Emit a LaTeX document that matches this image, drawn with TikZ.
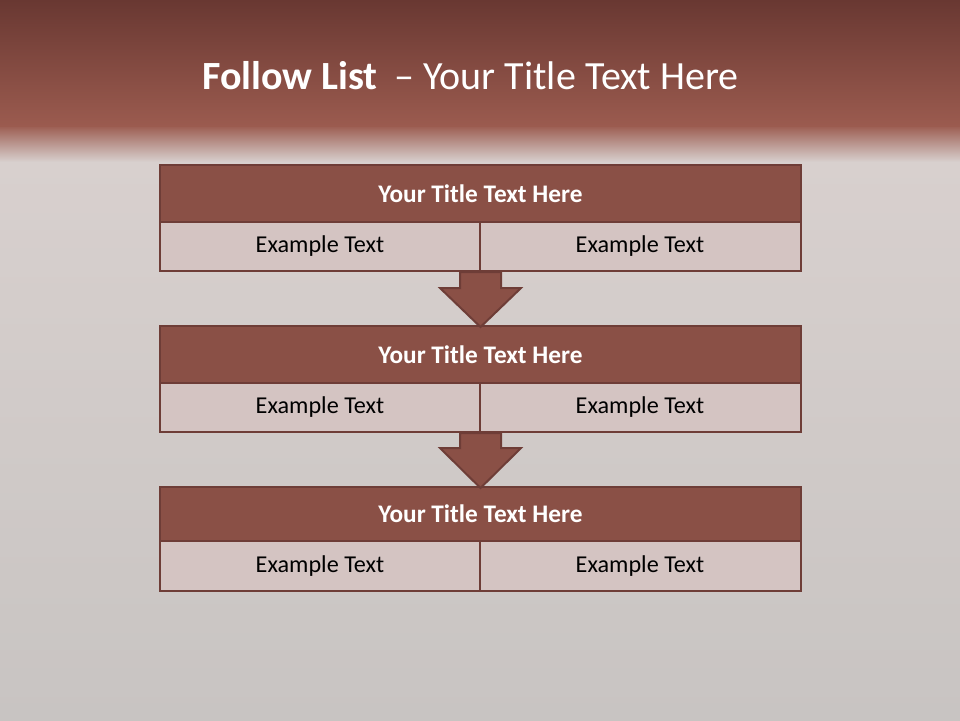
\documentclass[tikz,border=0pt]{standalone}
\usepackage{fontspec}
\setmainfont{Carlito}
\begin{document}
\begin{tikzpicture}[x=1pt,y=-1pt,
  titlebar/.style={draw=bordc, line width=2.5pt, fill=titlec},
  rowcell/.style={draw=bordc, line width=2.5pt, fill=rowc},
  titletext/.style={text=white, font=\bfseries\fontsize{25.3}{30}\selectfont},
  rowtext/.style={text=black, font=\fontsize{24.2}{29}\selectfont},
  downarrow/.style={draw=bordc, line width=2pt, fill=titlec, line join=miter}]
\definecolor{bordc}{HTML}{6E3D37}
\definecolor{titlec}{HTML}{8A5046}
\definecolor{rowc}{HTML}{D4C4C2}
\definecolor{hdtop}{HTML}{693832}
\definecolor{hdbot}{HTML}{9B5B4F}
\definecolor{bgmid}{HTML}{D8D0CE}
\definecolor{bgbot}{HTML}{C8C4C2}
\useasboundingbox (0,0) rectangle (960,720);
% background
\shade[top color=bgmid, bottom color=bgbot] (0,160) rectangle (960,720);
\shade[top color=hdbot, bottom color=bgmid] (0,125) rectangle (960,162);
\shade[top color=hdtop, bottom color=hdbot] (0,0) rectangle (960,126);
% title
\node[text=white, font=\fontsize{40}{48}\selectfont, anchor=west, inner sep=0pt] (title) at (202,76)
  {\textbf{Follow List}\hspace{0.42em}– Your Title Text Here};
% blocks
\foreach \n/\ya/\yb/\yc in {1/165/222/271, 2/326/383/432, 3/487/541/591}{
  \path[titlebar] (160,\ya) rectangle (801,\yb);
  \node[titletext] (t\n) at (480.5,{(\ya+\yb)/2}) {Your Title Text Here};
  \path[rowcell] (160,\yb) rectangle (480,\yc);
  \path[rowcell] (480,\yb) rectangle (801,\yc);
  \node[rowtext] (l\n) at (320,{(\yb+\yc)/2}) {Example Text};
  \node[rowtext] (r\n) at (640,{(\yb+\yc)/2}) {Example Text};
}
% arrows
\foreach \ys/\yh/\yt in {272/288/327, 433/448/488}{
  \path[downarrow] (460,\ys) -- (501,\ys) -- (501,\yh) -- (521,\yh) -- (480.5,\yt) -- (440,\yh) -- (460,\yh) -- cycle;
}
\end{tikzpicture}
\end{document}
